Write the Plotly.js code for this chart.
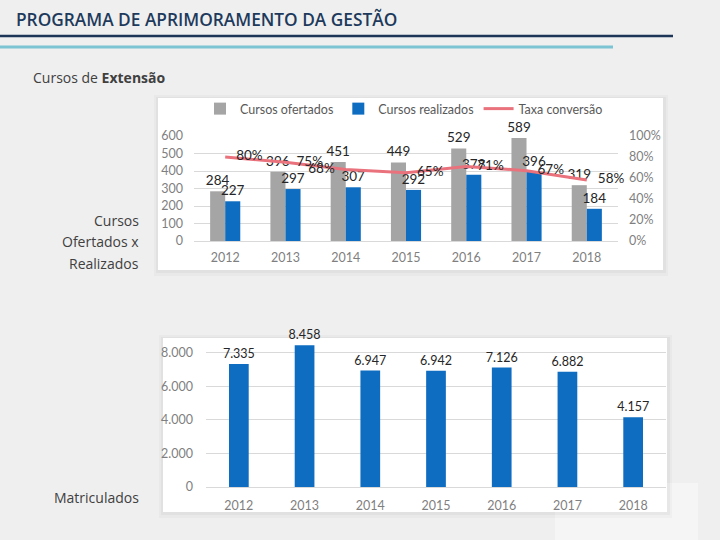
<!DOCTYPE html>
<html>
<head>
<meta charset="utf-8">
<script src="https://cdn.plot.ly/plotly-3.0.1.min.js"></script>
<style>html,body{margin:0;padding:0;background:#efefef;}#chart{width:720px;height:540px;}</style>
</head>
<body>
<div id="chart"></div>
<script>
const years = ['2012','2013','2014','2015','2016','2017','2018'];
const ofertados = [284, 396, 451, 449, 529, 589, 319];
const realizados = [227, 297, 307, 292, 378, 396, 184];
const taxa = [0.80, 0.75, 0.68, 0.65, 0.71, 0.67, 0.58];
const matriculados = [7335, 8458, 6947, 6942, 7126, 6882, 4157];
const pctTickVals = [0, 0.2, 0.4, 0.6, 0.8, 1.0];

const W = 720, H = 540;
const px = x => x / W;
const py = y => 1 - y / H;
const fmtThousands = v => String(v).replace(/\B(?=(\d{3})+(?!\d))/g, '.');

const labelFont = {family: 'Lato, sans-serif', size: 13.5, color: '#262626'};
const labelFont2 = {family: 'Lato, sans-serif', size: 12.5, color: '#262626'};
const tickFont = {family: 'Lato, sans-serif', size: 12.5, color: '#7f7f7f'};

const traces = [
  {
    type: 'bar', name: 'Cursos ofertados', x: years, y: ofertados,
    xaxis: 'x', yaxis: 'y',
    marker: {color: '#a5a5a5'},
    text: ofertados.map(String), textposition: 'outside', cliponaxis: false, constraintext: 'none',
    textfont: labelFont, hoverinfo: 'skip'
  },
  {
    type: 'bar', name: 'Cursos realizados', x: years, y: realizados,
    xaxis: 'x', yaxis: 'y',
    marker: {color: '#0e6dc1'},
    text: realizados.map(String), textposition: 'outside', cliponaxis: false, constraintext: 'none',
    textfont: labelFont, hoverinfo: 'skip'
  },
  {
    type: 'scatter', mode: 'lines+markers+text', name: 'Taxa conversão', x: years, y: taxa,
    xaxis: 'x', yaxis: 'y2',
    line: {color: '#e9727d', width: 3},
    marker: {size: 16, color: 'rgba(0,0,0,0)'},
    text: taxa.map(v => Math.round(v * 100) + '%'),
    textposition: ['middle right','middle right','middle left','middle right','middle right','middle right','middle right'],
    textfont: labelFont, cliponaxis: false, hoverinfo: 'skip'
  },
  {
    type: 'bar', name: 'Matriculados', x: years, y: matriculados,
    xaxis: 'x2', yaxis: 'y3', width: 0.3, showlegend: false,
    marker: {color: '#0e6dc1'},
    text: matriculados.map(fmtThousands), textposition: 'outside', cliponaxis: false, constraintext: 'none',
    textfont: labelFont2, hoverinfo: 'skip'
  }
];

function boxShapes(x0, y0, x1, y1) {
  return [
    {type:'rect', xref:'paper', yref:'paper', layer:'below', x0:px(x0-4), x1:px(x1+5), y0:py(y1+6), y1:py(y0-3), fillcolor:'rgba(0,0,0,0.025)', line:{width:0}},
    {type:'rect', xref:'paper', yref:'paper', layer:'below', x0:px(x0-2), x1:px(x1+3), y0:py(y1+3), y1:py(y0-1), fillcolor:'rgba(0,0,0,0.03)', line:{width:0}},
    {type:'rect', xref:'paper', yref:'paper', layer:'below', x0:px(x0), x1:px(x1), y0:py(y1), y1:py(y0), fillcolor:'#ffffff', line:{width:0}}
  ];
}

const shapes = [
  {type:'rect', xref:'paper', yref:'paper', layer:'below', x0:px(555), x1:px(698), y0:py(540), y1:py(483), fillcolor:'#f5f5f5', line:{width:0}},
  ...boxShapes(158, 98, 663, 270),
  ...boxShapes(163, 338, 667, 512),
  {type:'line', xref:'paper', yref:'paper', x0:0, x1:px(673), y0:py(36), y1:py(36), line:{color:'#1d3557', width:2.5}},
  {type:'line', xref:'paper', yref:'paper', x0:0, x1:px(613), y0:py(47), y1:py(47), line:{color:'#7cc3d3', width:3}}
];

const sideFont = {family: 'Open Sans, sans-serif', size: 14, color: '#404040'};
const annotations = [
  {xref:'paper', yref:'paper', x:px(14), y:py(20), xanchor:'left', yanchor:'middle', showarrow:false,
   text:'PROGRAMA DE APRIMORAMENTO DA GESTÃO', font:{family:'Open Sans, sans-serif', size:17.3, color:'#1d3a5c', weight:600}},
  {xref:'paper', yref:'paper', x:px(31), y:py(77), xanchor:'left', yanchor:'middle', showarrow:false,
   text:'Cursos de <b>Extensão</b>', font:sideFont},
  {xref:'paper', yref:'paper', x:px(141), y:py(220), xanchor:'right', yanchor:'middle', showarrow:false, text:'Cursos', font:sideFont},
  {xref:'paper', yref:'paper', x:px(141), y:py(241), xanchor:'right', yanchor:'middle', showarrow:false, text:'Ofertados x', font:sideFont},
  {xref:'paper', yref:'paper', x:px(141), y:py(263), xanchor:'right', yanchor:'middle', showarrow:false, text:'Realizados', font:sideFont},
  {xref:'paper', yref:'paper', x:px(141), y:py(497), xanchor:'right', yanchor:'middle', showarrow:false, text:'Matriculados', font:sideFont}
];

const layout = {
  width: W, height: H,
  margin: {l:0, r:0, t:0, b:0},
  paper_bgcolor: '#efefef',
  plot_bgcolor: 'rgba(0,0,0,0)',
  separators: ',.',
  barmode: 'group', bargap: 0.5, bargroupgap: 0,
  showlegend: true,
  legend: {orientation:'h', x:px(200), y:py(94), xanchor:'left', yanchor:'top',
           font:{family:'Lato, sans-serif', size:12.5, color:'#595959'}, bgcolor:'rgba(0,0,0,0)',
           itemwidth:30, traceorder:'normal'},
  xaxis: {domain:[px(194), px(618)], anchor:'y', type:'category', showgrid:false, zeroline:false,
          showline:false, ticks:'', tickfont:tickFont, ticklabelstandoff:7, fixedrange:true},
  yaxis: {domain:[py(241), py(136)], anchor:'x', range:[0,600], dtick:100, showgrid:true,
          gridcolor:'#d9d9d9', gridwidth:1, zeroline:true, zerolinecolor:'#d9d9d9', showline:false,
          ticks:'', tickfont:tickFont, ticklabelstandoff:10, fixedrange:true},
  yaxis2: {overlaying:'y', side:'right', anchor:'x', range:[0,1], tickvals:pctTickVals, tickformat:'.0%',
           showgrid:false, zeroline:false, showline:false, ticks:'', tickfont:tickFont,
           ticklabelstandoff:10, fixedrange:true},
  xaxis2: {domain:[px(206), px(666)], anchor:'y3', type:'category', showgrid:false, zeroline:false,
           showline:false, ticks:'', tickfont:tickFont, ticklabelstandoff:9, fixedrange:true},
  yaxis3: {domain:[py(487), py(344.6)], anchor:'x2', range:[0,8500], tickvals:[0,2000,4000,6000,8000],
           separatethousands:true, tickformat:',d', showgrid:true, gridcolor:'#d9d9d9', zeroline:true,
           zerolinecolor:'#d9d9d9', showline:false, ticks:'', tickfont:tickFont, ticklabelstandoff:12,
           fixedrange:true},
  shapes: shapes,
  annotations: annotations
};

Plotly.newPlot('chart', traces, layout, {displayModeBar:false, staticPlot:true});
</script>
</body>
</html>
